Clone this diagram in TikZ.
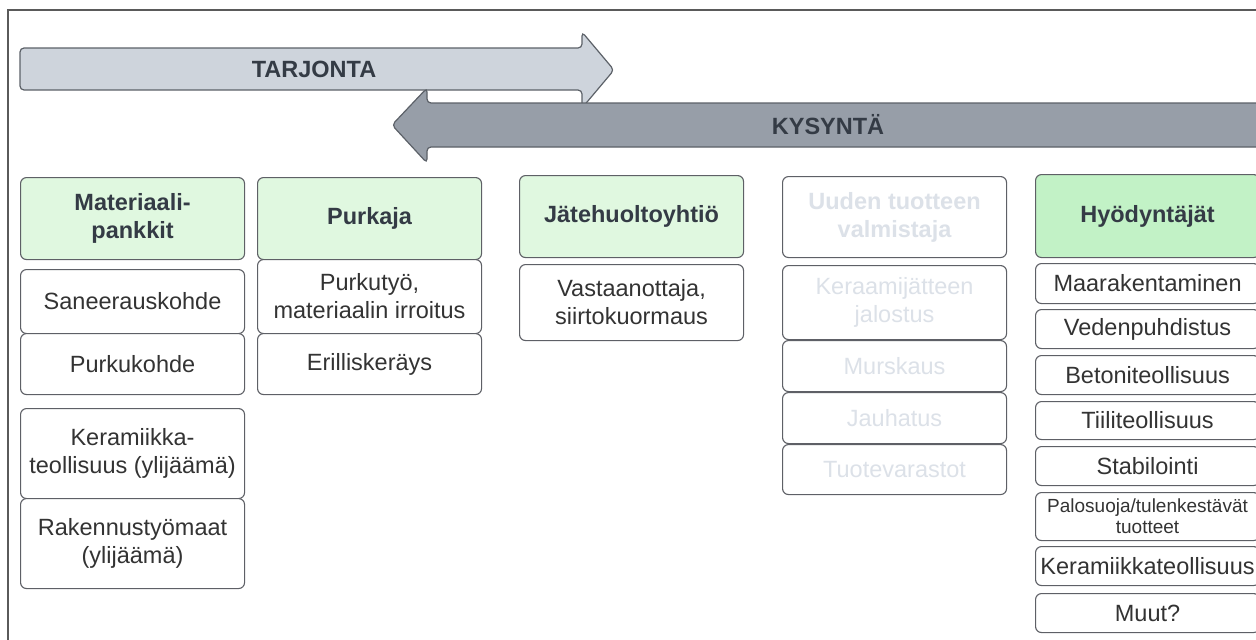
\documentclass[tikz,border=0pt]{standalone}
\usepackage{fontspec}
\setmainfont{Liberation Sans}
\definecolor{frameline}{HTML}{5A5A5A}
\definecolor{boxline}{HTML}{5E6066}
\definecolor{txt}{HTML}{333333}
\definecolor{hdrtxt}{HTML}{343B45}
\definecolor{paletxt}{HTML}{DCE1E8}
\definecolor{greenlight}{HTML}{E0F8E0}
\definecolor{greenstrong}{HTML}{C2F2C6}
\definecolor{supplyfill}{HTML}{CED4DC}
\definecolor{demandfill}{HTML}{979EA8}
\definecolor{arrowline}{HTML}{5C6168}
\tikzset{
  frame/.style={draw=frameline, line width=1.4pt},
  bigarrow/.style={draw=arrowline, line width=1.2pt, rounded corners=4pt},
  arrowlabel/.style={font=\fontsize{23.5}{27}\selectfont\bfseries, text=hdrtxt},
  box/.style={draw=boxline, line width=1.1pt, rounded corners=6pt, fill=white,
    text=txt, align=center, inner sep=0pt, anchor=north west,
    font=\fontsize{23.5}{28}\selectfont},
  hdr/.style={box, fill=greenlight, text=hdrtxt, font=\fontsize{23.5}{28}\selectfont\bfseries},
  hdrstrong/.style={hdr, fill=greenstrong},
  pale/.style={box, text=paletxt},
  palehdr/.style={pale, font=\fontsize{23.5}{28}\selectfont\bfseries},
  col/.style={minimum width=224pt},
  usecol/.style={minimum width=224pt},
}
\begin{document}
\begin{tikzpicture}[x=1pt, y=-1pt]
\useasboundingbox (0,0) rectangle (1256,640);
\clip (0,0) rectangle (1256,640);

% outer frame (continues past the right and bottom edges)
\draw[frame] (8,700) -- (8,10) -- (1320,10);

% supply arrow, pointing right
\draw[bigarrow, fill=supplyfill] (20,48) -- (582,48) -- (582,32) -- (614,70)
  -- (582,108) -- (582,90) -- (20,90) -- cycle;
\node[arrowlabel] (supply) at (314,69) {TARJONTA};

% demand arrow, pointing left
\draw[bigarrow, fill=demandfill] (1320,103) -- (427,103) -- (427,88) -- (392,125)
  -- (427,163) -- (427,147) -- (1320,147) -- cycle;
\node[arrowlabel] (demand) at (828,125) {KYSYNTÄ};

% column 1: material banks
\node[hdr, col, minimum height=82pt] (mat) at (20,177) {Materiaali-\\pankkit};
\node[box, col, minimum height=64pt] (san) at (20,269) {Saneerauskohde};
\node[box, col, minimum height=61pt] (purkuk) at (20,333) {Purkukohde};
\node[box, col, minimum height=90pt] (keryl) at (20,408) {Keramiikka-\\teollisuus (ylijäämä)};
\node[box, col, minimum height=90pt] (rak) at (20,498) {Rakennustyömaat\\(ylijäämä)};

% column 2: demolition contractor
\node[hdr, col, minimum height=82pt] (purkaja) at (257,177) {Purkaja};
\node[box, col, minimum height=74pt] (purkutyo) at (257,259) {Purkutyö,\\materiaalin irroitus};
\node[box, col, minimum height=61pt] (erill) at (257,333) {Erilliskeräys};

% column 3: waste management company
\node[hdr, col, minimum height=82pt] (jate) at (519,175) {Jätehuoltoyhtiö};
\node[box, col, minimum height=76pt] (vast) at (519,264) {Vastaanottaja,\\siirtokuormaus};

% column 4: manufacturer of a new product
\node[palehdr, col, minimum height=81pt] (uusi) at (782,176) {Uuden tuotteen\\valmistaja};
\node[pale, col, minimum height=74pt] (jalostus) at (782,265) {Keraamijätteen\\jalostus};
\node[pale, col, minimum height=51pt] (murskaus) at (782,340) {Murskaus};
\node[pale, col, minimum height=51pt] (jauhatus) at (782,392) {Jauhatus};
\node[pale, col, minimum height=50pt] (varastot) at (782,444) {Tuotevarastot};

% column 5: end users
\node[hdrstrong, usecol, minimum height=83pt] (hyod) at (1035,174) {Hyödyntäjät};
\node[box, usecol, minimum height=40pt] (maa) at (1035,263) {Maarakentaminen};
\node[box, usecol, minimum height=39pt] (vesi) at (1035,309) {Vedenpuhdistus};
\node[box, usecol, minimum height=39pt] (betoni) at (1035,355) {Betoniteollisuus};
\node[box, usecol, minimum height=38pt] (tiili) at (1035,401) {Tiiliteollisuus};
\node[box, usecol, minimum height=39pt] (stab) at (1035,446) {Stabilointi};
\node[box, usecol, minimum height=48pt, font=\fontsize{19}{21}\selectfont] (palo) at (1035,492) {Palosuoja/tulenkestävät\\tuotteet};
\node[box, usecol, minimum height=39pt] (kerind) at (1035,546) {Keramiikkateollisuus};
\node[box, usecol, minimum height=39pt] (muut) at (1035,593) {Muut?};
\end{tikzpicture}
\end{document}
